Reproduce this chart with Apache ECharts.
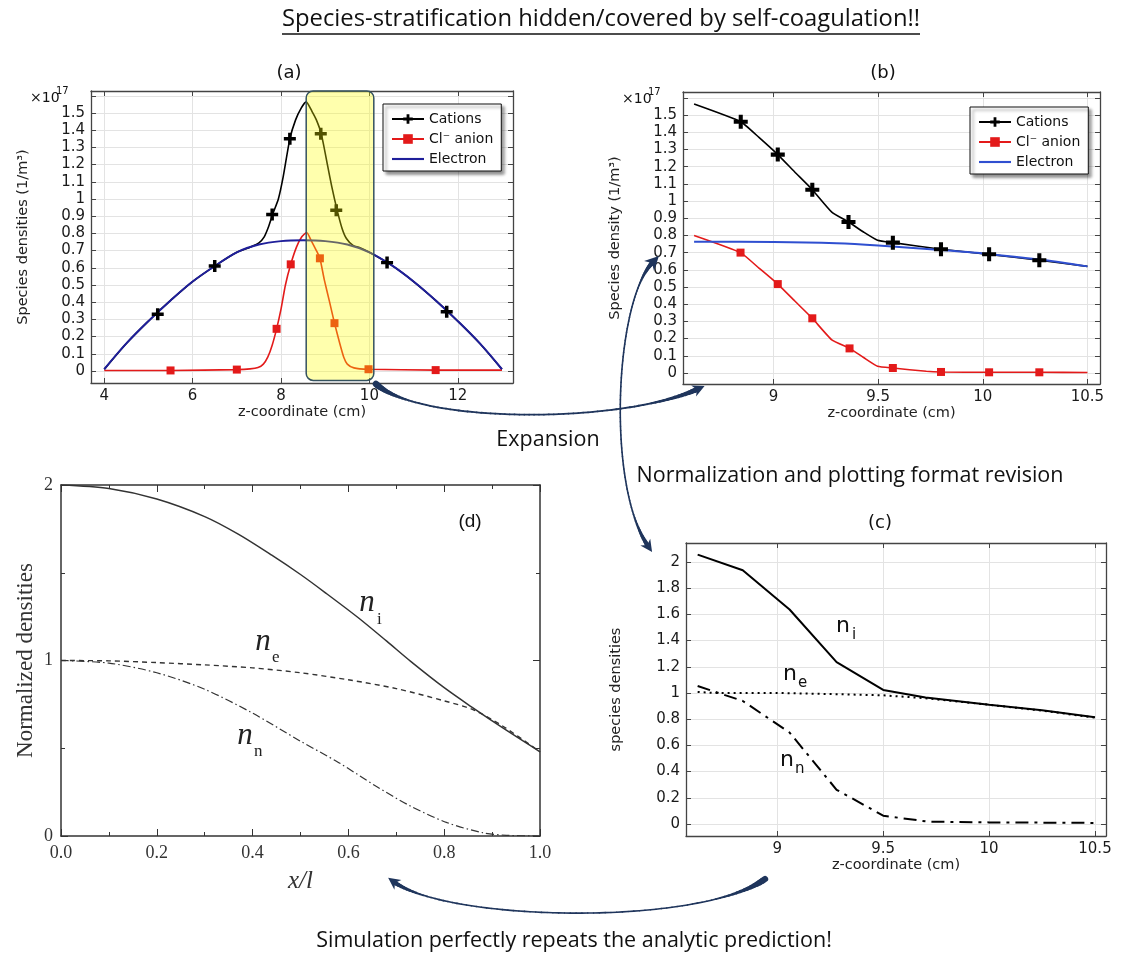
<!DOCTYPE html>
<html><head><meta charset="utf-8"><title>Species stratification</title>
<script src="https://cdn.jsdelivr.net/npm/echarts@6.0.0/dist/echarts.min.js"></script>
<style>html,body{margin:0;padding:0;background:#fff;}#chart{width:1121px;height:956px;}</style>
</head><body><div id="chart"></div>
<script>
// ---------------- data ----------------
// Panel (a): z-coordinate (cm) vs density (x1e17 1/m^3)
const aElectron = [[4,0.01],[4.5,0.16],[5,0.29],[5.5,0.41],[6,0.52],[6.5,0.61],[7,0.69],[7.5,0.735],[8,0.755],[8.5,0.76],[9,0.755],[9.5,0.735],[10,0.69],[10.5,0.615],[11,0.52],[11.5,0.41],[12,0.29],[12.5,0.16],[13,0.01]];
const aCations = [[4,0.01],[4.5,0.16],[5,0.29],[5.5,0.41],[6,0.52],[6.5,0.61],[7,0.69],[7.3,0.72],[7.5,0.745],[7.62,0.78],[7.72,0.84],[7.81,0.91],[7.94,1.0],[8.05,1.13],[8.2,1.35],[8.33,1.46],[8.46,1.53],[8.57,1.565],[8.7,1.51],[8.8,1.46],[8.91,1.38],[9.05,1.2],[9.15,1.07],[9.27,0.935],[9.38,0.83],[9.48,0.77],[9.63,0.73],[9.8,0.715],[10,0.69],[10.5,0.615],[11,0.52],[11.5,0.41],[12,0.29],[12.5,0.16],[13,0.01]];
const aCationMarks = [[5.21,0.33],[6.5,0.61],[7.8,0.91],[8.2,1.35],[8.9,1.38],[9.25,0.935],[10.4,0.63],[11.75,0.345]];
const aAnion = [[4,0.003],[5.5,0.003],[7,0.008],[7.3,0.012],[7.48,0.02],[7.6,0.04],[7.7,0.08],[7.8,0.15],[7.9,0.245],[8.0,0.36],[8.1,0.5],[8.22,0.62],[8.35,0.72],[8.47,0.78],[8.58,0.805],[8.68,0.76],[8.8,0.70],[8.88,0.655],[8.98,0.53],[9.1,0.4],[9.21,0.278],[9.33,0.16],[9.42,0.08],[9.5,0.04],[9.65,0.018],[9.97,0.01],[11.5,0.005],[13,0.005]];
const aAnionMarks = [[5.5,0.003],[7,0.008],[7.9,0.245],[8.22,0.62],[8.88,0.655],[9.21,0.278],[9.98,0.01],[11.5,0.005]];
const aHighlightX = [8.57, 10.1];
const aHighlightY = [-0.055, 1.628];

// Panel (b): expanded view
const bCations = [[8.62,1.564],[8.843,1.461],[8.93,1.37],[9.02,1.27],[9.1,1.17],[9.185,1.066],[9.278,0.936],[9.358,0.878],[9.43,0.82],[9.497,0.772],[9.57,0.758],[9.8,0.72],[10.03,0.69],[10.27,0.656],[10.5,0.62]];
const bCationMarks = [[8.843,1.461],[9.02,1.27],[9.185,1.066],[9.358,0.878],[9.57,0.758],[9.8,0.72],[10.03,0.69],[10.27,0.656]];
const bAnion = [[8.62,0.80],[8.842,0.70],[8.93,0.61],[9.02,0.517],[9.1,0.42],[9.185,0.318],[9.278,0.193],[9.363,0.143],[9.43,0.09],[9.497,0.039],[9.57,0.029],[9.73,0.01],[9.80,0.006],[10.03,0.004],[10.27,0.004],[10.5,0.003]];
const bAnionMarks = [[8.842,0.70],[9.02,0.517],[9.185,0.318],[9.363,0.143],[9.57,0.029],[9.80,0.006],[10.03,0.004],[10.27,0.004]];
const bElectron = [[8.62,0.763],[9.0,0.762],[9.3,0.755],[9.5,0.742],[9.8,0.715],[10.0,0.695],[10.27,0.66],[10.5,0.62]];

// Panel (c): normalized
const cIons = [[8.624,2.056],[8.837,1.937],[9.058,1.637],[9.28,1.236],[9.5,1.023],[9.7,0.965],[10.0,0.91],[10.25,0.868],[10.5,0.815]];
const cElectrons = [[8.624,1.008],[8.7,1.0],[9.0,1.0],[9.3,0.99],[9.5,0.982],[9.7,0.96],[10.0,0.91],[10.25,0.865],[10.5,0.812]];
const cNegIons = [[8.624,1.053],[8.837,0.939],[9.058,0.698],[9.28,0.261],[9.5,0.063],[9.71,0.018],[10.0,0.012],[10.5,0.008]];

// Panel (d): analytic prediction
const dIons = [[0,2.0],[0.1,1.98],[0.2,1.92],[0.3,1.82],[0.37,1.72],[0.44,1.6],[0.5,1.49],[0.55,1.39],[0.62,1.245],[0.68,1.11],[0.73,0.995],[0.8,0.845],[0.86,0.73],[0.92,0.62],[1.0,0.48]];
const dElectrons = [[0,1.0],[0.1,0.998],[0.2,0.988],[0.3,0.975],[0.4,0.958],[0.5,0.93],[0.6,0.89],[0.7,0.84],[0.8,0.77],[0.86,0.72],[0.92,0.63],[1.0,0.48]];
const dNegIons = [[0,1.0],[0.1,0.985],[0.2,0.93],[0.3,0.836],[0.4,0.70],[0.5,0.54],[0.58,0.418],[0.657,0.285],[0.73,0.17],[0.806,0.076],[0.88,0.019],[0.93,0.004],[1.0,0.0]];

// Texts
const TITLE = 'Species-stratification hidden/covered by self-coagulation!!';
const TXT_EXP = 'Expansion';
const TXT_NORM = 'Normalization and plotting format revision';
const TXT_SIM = 'Simulation perfectly repeats the analytic prediction!';

// ---------------- styles ----------------
const SANS = 'DejaVu Sans', SERIF = 'Liberation Serif', CAL = 'Open Sans';
const PLUS = 'path://M-1.6,-5.5H1.6V-1.6H5.5V1.6H1.6V5.5H-1.6V1.6H-5.5V-1.6H-1.6Z';
const LINE_ICON = 'path://M0,0H30V2H0Z';
const FRAME = '#444';
const NAVY = '#1f1f9a', BLUE = '#2f4fd0', RED = '#e31a1a', ARROW = '#1f355c';

function cAxis(gi, pos, min, max, step, main, fmt, name, gap) {
  return {
    type: 'value', gridIndex: gi, position: pos, min: min, max: max,
    splitNumber: Math.round((max - min) / step), minInterval: step, maxInterval: step,
    name: main ? name : '', nameLocation: 'middle', nameGap: gap,
    nameTextStyle: { fontFamily: SANS, fontSize: 14.5, color: '#222' },
    axisLine: { show: true, onZero: false, lineStyle: { color: FRAME, width: 1.3 } },
    axisTick: { show: true, inside: true, length: 5, lineStyle: { color: FRAME, width: 1 } },
    axisLabel: { show: main, showMinLabel: false, showMaxLabel: false, fontFamily: SANS, fontSize: 15, color: '#1a1a1a', margin: 6, formatter: fmt },
    splitLine: { show: main, lineStyle: { color: '#e3e3e3', width: 1 } }
  };
}
function dAxis(pos, min, max, step, main, fmt, name, gap, nameStyle) {
  return {
    type: 'value', gridIndex: 3, position: pos, min: min, max: max, interval: step,
    name: main ? name : '', nameLocation: 'middle', nameGap: gap, nameTextStyle: nameStyle,
    axisLine: { show: true, onZero: false, lineStyle: { color: '#333', width: 1.5 } },
    axisTick: { show: true, inside: true, length: 7, lineStyle: { color: '#333', width: 1 } },
    minorTick: { show: true, splitNumber: 2, length: 4, lineStyle: { color: '#333', width: 1 } },
    axisLabel: { show: main, fontFamily: SERIF, fontSize: 18, color: '#333', margin: 8, formatter: fmt },
    splitLine: { show: false }
  };
}
const fmtDens = v => (v > 1.55 || v < -0.001) ? '' : String(+v.toFixed(1));
const fmtPlain = v => String(+v.toFixed(2));

const xAxes = [
  cAxis(0, 'bottom', 3.7, 13.25, 2, true, fmtPlain, 'z-coordinate (cm)', 17),
  cAxis(0, 'top', 3.7, 13.25, 2, false),
  cAxis(1, 'bottom', 8.567, 10.56, 0.5, true, fmtPlain, 'z-coordinate (cm)', 17),
  cAxis(1, 'top', 8.567, 10.56, 0.5, false),
  cAxis(2, 'bottom', 8.569, 10.552, 0.5, true, fmtPlain, 'z-coordinate (cm)', 18),
  cAxis(2, 'top', 8.569, 10.552, 0.5, false),
  dAxis('bottom', 0, 1, 0.2, true, v => v.toFixed(1), 'x/l', 33, { fontFamily: SERIF, fontStyle: 'italic', fontSize: 25, color: '#333' }),
  dAxis('top', 0, 1, 0.2, false)
];
const yAxes = [
  cAxis(0, 'left', -0.07, 1.628, 0.1, true, fmtDens, 'Species densities (1/m³)', 60),
  cAxis(0, 'right', -0.07, 1.628, 0.1, false),
  cAxis(1, 'left', -0.064, 1.634, 0.1, true, fmtDens, 'Species density (1/m³)', 60),
  cAxis(1, 'right', -0.064, 1.634, 0.1, false),
  cAxis(2, 'left', -0.092, 2.145, 0.2, true, fmtPlain, 'species densities', 62),
  cAxis(2, 'right', -0.092, 2.145, 0.2, false),
  dAxis('left', 0, 2, 1, true, v => String(v), 'Normalized densities', 24, { fontFamily: SERIF, fontSize: 23, color: '#333' }),
  dAxis('right', 0, 2, 1, false)
];

function lineS(name, k, data, color, width, extra) {
  return Object.assign({
    type: 'line', name: name, xAxisIndex: 2 * k, yAxisIndex: 2 * k, data: data,
    symbol: 'none', showSymbol: false, animation: false, silent: true,
    lineStyle: { color: color, width: width }, itemStyle: { color: color }
  }, extra || {});
}
function markS(name, k, data, symbol, size, color) {
  return {
    type: 'scatter', name: name, xAxisIndex: 2 * k, yAxisIndex: 2 * k, data: data,
    symbol: symbol, symbolSize: size, itemStyle: { color: color, opacity: 1 }, animation: false, silent: true, z: 4
  };
}

const series = [
  // (a)
  lineS('Cations', 0, aCations, '#000', 1.6, { symbol: PLUS, smooth: 0.2 }),
  lineS('Cl⁻ anion', 0, aAnion, RED, 1.6, { symbol: 'rect', smooth: 0.2 }),
  lineS('Electron', 0, aElectron, NAVY, 2, { smooth: 0.35 }),
  markS('a-cation-marks', 0, aCationMarks, PLUS, 12, '#000'),
  markS('a-anion-marks', 0, aAnionMarks, 'rect', 8, RED),
  // (b)
  lineS('Cations', 1, bCations, '#000', 1.6, { symbol: PLUS, smooth: 0.15 }),
  lineS('Cl⁻ anion', 1, bAnion, RED, 1.6, { symbol: 'rect', smooth: 0.15 }),
  lineS('Electron ', 1, bElectron, BLUE, 2, { smooth: 0.3 }),
  markS('b-cation-marks', 1, bCationMarks, PLUS, 14, '#000'),
  markS('b-anion-marks', 1, bAnionMarks, 'rect', 8, RED),
  // (c)
  lineS('n_i', 2, cIons, '#000', 2),
  lineS('n_e', 2, cElectrons, '#000', 2, { lineStyle: { color: '#000', width: 2, type: [2, 4] } }),
  lineS('n_n', 2, cNegIons, '#000', 2, { lineStyle: { color: '#000', width: 2, type: [13, 6, 3, 6] } }),
  // (d)
  lineS('d_i', 3, dIons, '#333', 1.5, { smooth: 0.3 }),
  lineS('d_e', 3, dElectrons, '#333', 1.4, { smooth: 0.3, lineStyle: { color: '#333', width: 1.4, type: [5, 4] } }),
  lineS('d_n', 3, dNegIons, '#333', 1.2, { smooth: 0.3, lineStyle: { color: '#333', width: 1.2, type: [8, 3, 1.5, 3] } })
];

const legendBase = {
  orient: 'vertical', itemWidth: 32, itemHeight: 12, itemGap: 6,
  padding: [8, 8, 5, 8], backgroundColor: '#fff', borderColor: '#111', borderWidth: 1,
  shadowColor: 'rgba(0,0,0,0.45)', shadowBlur: 3, shadowOffsetX: 3, shadowOffsetY: 3,
  textStyle: { fontFamily: SANS, fontSize: 14, color: '#111' }, selectedMode: false
};

const option = {
  backgroundColor: '#fff',
  animation: false,
  grid: [
    { left: 91, top: 91, width: 422, height: 292, containLabel: false, outerBoundsMode: 'none' },
    { left: 683, top: 92, width: 417, height: 292, containLabel: false, outerBoundsMode: 'none' },
    { left: 686, top: 543, width: 420, height: 293, containLabel: false, outerBoundsMode: 'none' },
    { left: 61, top: 485, width: 479, height: 351, containLabel: false, outerBoundsMode: 'none' }
  ],
  xAxis: xAxes,
  yAxis: yAxes,
  legend: [
    Object.assign({}, legendBase, { left: 383, top: 104, data: ['Cations', 'Cl⁻ anion', { name: 'Electron', icon: LINE_ICON }] }),
    Object.assign({}, legendBase, { left: 970, top: 107, data: ['Cations', 'Cl⁻ anion', { name: 'Electron ', icon: LINE_ICON }], formatter: n => n.trim() })
  ],
  series: series
};

const chart = echarts.init(document.getElementById('chart'), null, { renderer: 'canvas', width: 1121, height: 956 });
chart.setOption(option);

// ---------------- graphics: texts, highlight box and arrows ----------------
function txt(s, x, y, font, opts) {
  opts = opts || {};
  return {
    type: 'text', x: x, y: y, z: 120, silent: true,
    style: Object.assign({ text: s, font: font, fill: opts.fill || '#111', textAlign: opts.align || 'center', align: opts.align || 'center', textVerticalAlign: 'middle', verticalAlign: 'middle' }, opts.style || {})
  };
}
function bez(p, t) {
  const u = 1 - t;
  return [u*u*u*p[0][0] + 3*u*u*t*p[1][0] + 3*u*t*t*p[2][0] + t*t*t*p[3][0],
          u*u*u*p[0][1] + 3*u*u*t*p[1][1] + 3*u*t*t*p[2][1] + t*t*t*p[3][1]];
}
function norm(v) { const l = Math.hypot(v[0], v[1]); return [v[0] / l, v[1] / l]; }
function head(tip, dir, len, half, color) {
  const px = -dir[1], py = dir[0];
  const bx = tip[0] - dir[0] * len, by = tip[1] - dir[1] * len;
  return { type: 'polygon', z: 110, silent: true, shape: { points: [[tip[0], tip[1]], [bx + px * half, by + py * half], [tip[0] - dir[0]*len*0.7, tip[1] - dir[1]*len*0.7], [bx - px * half, by - py * half]] }, style: { fill: color } };
}
function arrow(p, wFn, heads, color) {
  const els = [];
  const N = 80;
  for (let i = 0; i < N; i++) {
    const t0 = i / N, t1 = (i + 1) / N;
    const a = bez(p, t0), b = bez(p, t1);
    els.push({ type: 'line', z: 110, silent: true, shape: { x1: a[0], y1: a[1], x2: b[0], y2: b[1] }, style: { stroke: color, lineWidth: wFn((t0 + t1) / 2), lineCap: 'round' } });
  }
  if (heads.end) {
    const d = norm([p[3][0] - p[2][0], p[3][1] - p[2][1]]);
    els.push(head([p[3][0] + d[0] * heads.end[0] * 0.6, p[3][1] + d[1] * heads.end[0] * 0.6], d, heads.end[0], heads.end[1], color));
  }
  if (heads.start) {
    const d = norm([p[0][0] - p[1][0], p[0][1] - p[1][1]]);
    els.push(head([p[0][0] + d[0] * heads.start[0] * 0.6, p[0][1] + d[1] * heads.start[0] * 0.6], d, heads.start[0], heads.start[1], color));
  }
  return els;
}
const ramp = (t, a, b) => Math.max(0, Math.min(1, (t - a) / (b - a)));

const tl = chart.convertToPixel({ gridIndex: 0 }, [aHighlightX[0], aHighlightY[1]]);
const br = chart.convertToPixel({ gridIndex: 0 }, [aHighlightX[1], aHighlightY[0]]);

let g = [];
g.push({
  type: 'rect', z: 60, silent: true,
  shape: { x: tl[0], y: tl[1], width: br[0] - tl[0], height: br[1] - tl[1], r: 7 },
  style: { fill: 'rgba(255,255,0,0.32)', stroke: '#35525f', lineWidth: 1.5 }
});
// Title + underline
g.push(txt(TITLE, 601, 19, '23.8px "' + CAL + '"'));
g.push({ type: 'line', z: 120, silent: true, shape: { x1: 282, y1: 34, x2: 920, y2: 34 }, style: { stroke: '#111', lineWidth: 1.3 } });
g.push(txt(TXT_EXP, 548, 440, '21.5px "' + CAL + '"'));
g.push(txt(TXT_NORM, 850, 476, '21.5px "' + CAL + '"'));
g.push(txt(TXT_SIM, 574, 941, '21.5px "' + CAL + '"'));
// panel labels
g.push(txt('(a)', 289, 73, '18px "' + SANS + '"'));
g.push(txt('(b)', 883, 73, '18px "' + SANS + '"'));
g.push(txt('(c)', 880, 523, '18px "' + SANS + '"'));
g.push(txt('(d)', 470, 522, '19px "Liberation Sans"'));
// x10^17 multipliers
g.push(txt('×10', 30, 98, '14px "' + SANS + '"', { align: 'left' }));
g.push(txt('17', 56, 91, '10px "' + SANS + '"', { align: 'left' }));
g.push(txt('×10', 622, 99, '14px "' + SANS + '"', { align: 'left' }));
g.push(txt('17', 648, 92, '10px "' + SANS + '"', { align: 'left' }));
// (c) annotations
g.push(txt('n', 843, 626, '22px "' + SANS + '"'));
g.push(txt('i', 852, 635, '15px "' + SANS + '"', { align: 'left' }));
g.push(txt('n', 790, 674, '22px "' + SANS + '"'));
g.push(txt('e', 798, 683, '15px "' + SANS + '"', { align: 'left' }));
g.push(txt('n', 787, 760, '22px "' + SANS + '"'));
g.push(txt('n', 795, 769, '15px "' + SANS + '"', { align: 'left' }));
// (d) annotations
g.push(txt('n', 367, 603, 'italic 31px "' + SERIF + '"', { fill: '#222' }));
g.push(txt('i', 377, 620, '17px "' + SERIF + '"', { align: 'left', fill: '#222' }));
g.push(txt('n', 263, 642, 'italic 31px "' + SERIF + '"', { fill: '#222' }));
g.push(txt('e', 272, 658, '17px "' + SERIF + '"', { align: 'left', fill: '#222' }));
g.push(txt('n', 245, 736, 'italic 31px "' + SERIF + '"', { fill: '#222' }));
g.push(txt('n', 254, 752, '17px "' + SERIF + '"', { align: 'left', fill: '#222' }));
// arrows
g = g.concat(arrow([[376, 384], [420, 424], [620, 424], [698, 389]],
  t => 1.8 + 5 * Math.pow(1 - ramp(t, 0, 0.18), 1.5) + 3.5 * Math.pow(ramp(t, 0.8, 1), 1.5),
  { end: [12, 6] }, ARROW));
g = g.concat(arrow([[653, 262], [615, 300], [606, 485], [648, 546]],
  t => 1.6 + 3.5 * Math.pow(1 - ramp(t, 0, 0.15), 1.5) + 3 * Math.pow(ramp(t, 0.85, 1), 1.5),
  { start: [14, 7], end: [12, 6] }, ARROW));
g = g.concat(arrow([[394, 882], [450, 922], [700, 926], [765, 879]],
  t => 1.6 + 3 * Math.pow(1 - ramp(t, 0, 0.15), 1.5) + 5 * Math.pow(ramp(t, 0.82, 1), 1.5),
  { start: [12, 6] }, ARROW));

chart.setOption({ graphic: { elements: g } });
</script>
</body></html>
